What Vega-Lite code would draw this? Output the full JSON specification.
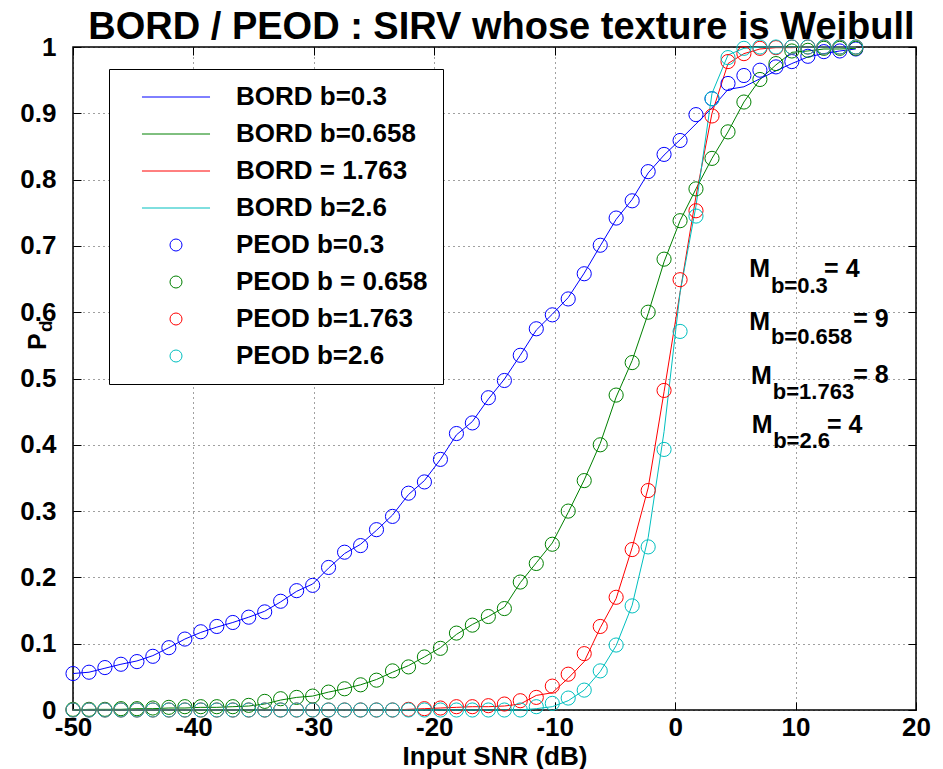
{
  "$schema": "https://vega.github.io/schema/vega-lite/v6.json",
  "width": 843,
  "height": 663,
  "autosize": {"type": "none"},
  "padding": {"left": 73, "top": 47, "right": 27, "bottom": 59},
  "background": "white",
  "title": {
    "text": "BORD / PEOD : SIRV whose texture is Weibull",
    "fontSize": 38,
    "fontWeight": "bold",
    "color": "#000",
    "anchor": "middle",
    "frame": "group",
    "baseline": "alphabetic",
    "offset": 6,
    "dx": 7,
    "dy": 49
  },
  "config": {
    "font": "Liberation Sans",
    "view": {"stroke": "#000", "strokeWidth": 1.5},
    "legend": {
      "orient": "none",
      "legendX": 36,
      "legendY": 22,
      "fillColor": "white",
      "strokeColor": "#000",
      "strokeWidth": 1,
      "padding": 15,
      "labelFontSize": 26,
      "labelFontWeight": "bold",
      "labelColor": "#000",
      "labelLimit": 400,
      "symbolSize": 144,
      "symbolStrokeWidth": 1,
      "symbolOffset": 39,
      "labelOffset": 47,
      "rowPadding": 11,
      "title": null
    }
  },
  "datasets": {
    "pd": [
      {"x": -50.00, "BORD03": 0.055, "PEOD03": 0.055, "BORD0658": 0.000, "PEOD0658": 0.001, "BORD1763": 0, "PEOD1763": 0, "BORD26": 0, "PEOD26": 0},
      {"x": -48.67, "BORD03": 0.057, "PEOD03": 0.057, "BORD0658": 0.001, "PEOD0658": 0.001, "BORD1763": 0, "PEOD1763": 0, "BORD26": 0, "PEOD26": 0},
      {"x": -47.35, "BORD03": 0.063, "PEOD03": 0.064, "BORD0658": 0.001, "PEOD0658": 0.001, "BORD1763": 0, "PEOD1763": 0, "BORD26": 0, "PEOD26": 0},
      {"x": -46.02, "BORD03": 0.069, "PEOD03": 0.069, "BORD0658": 0.001, "PEOD0658": 0.002, "BORD1763": 0, "PEOD1763": 0, "BORD26": 0, "PEOD26": 0},
      {"x": -44.69, "BORD03": 0.074, "PEOD03": 0.073, "BORD0658": 0.002, "PEOD0658": 0.002, "BORD1763": 0, "PEOD1763": 0, "BORD26": 0, "PEOD26": 0},
      {"x": -43.37, "BORD03": 0.082, "PEOD03": 0.081, "BORD0658": 0.002, "PEOD0658": 0.003, "BORD1763": 0, "PEOD1763": 0, "BORD26": 0, "PEOD26": 0},
      {"x": -42.04, "BORD03": 0.094, "PEOD03": 0.094, "BORD0658": 0.003, "PEOD0658": 0.004, "BORD1763": 0, "PEOD1763": 0, "BORD26": 0, "PEOD26": 0},
      {"x": -40.71, "BORD03": 0.107, "PEOD03": 0.107, "BORD0658": 0.003, "PEOD0658": 0.005, "BORD1763": 0, "PEOD1763": 0, "BORD26": 0, "PEOD26": 0},
      {"x": -39.39, "BORD03": 0.117, "PEOD03": 0.118, "BORD0658": 0.004, "PEOD0658": 0.005, "BORD1763": 0, "PEOD1763": 0, "BORD26": 0, "PEOD26": 0},
      {"x": -38.06, "BORD03": 0.125, "PEOD03": 0.126, "BORD0658": 0.004, "PEOD0658": 0.005, "BORD1763": 0, "PEOD1763": 0, "BORD26": 0, "PEOD26": 0},
      {"x": -36.73, "BORD03": 0.132, "PEOD03": 0.132, "BORD0658": 0.005, "PEOD0658": 0.005, "BORD1763": 0, "PEOD1763": 0, "BORD26": 0, "PEOD26": 0},
      {"x": -35.41, "BORD03": 0.140, "PEOD03": 0.140, "BORD0658": 0.006, "PEOD0658": 0.007, "BORD1763": 0, "PEOD1763": 0, "BORD26": 0, "PEOD26": 0},
      {"x": -34.08, "BORD03": 0.149, "PEOD03": 0.148, "BORD0658": 0.009, "PEOD0658": 0.013, "BORD1763": 0, "PEOD1763": 0, "BORD26": 0, "PEOD26": 0},
      {"x": -32.76, "BORD03": 0.163, "PEOD03": 0.164, "BORD0658": 0.015, "PEOD0658": 0.017, "BORD1763": 0, "PEOD1763": 0, "BORD26": 0, "PEOD26": 0},
      {"x": -31.43, "BORD03": 0.179, "PEOD03": 0.180, "BORD0658": 0.019, "PEOD0658": 0.019, "BORD1763": 0, "PEOD1763": 0, "BORD26": 0, "PEOD26": 0},
      {"x": -30.10, "BORD03": 0.190, "PEOD03": 0.188, "BORD0658": 0.021, "PEOD0658": 0.021, "BORD1763": 0, "PEOD1763": 0, "BORD26": 0, "PEOD26": 0},
      {"x": -28.78, "BORD03": 0.214, "PEOD03": 0.215, "BORD0658": 0.027, "PEOD0658": 0.027, "BORD1763": 0, "PEOD1763": 0, "BORD26": 0, "PEOD26": 0},
      {"x": -27.45, "BORD03": 0.236, "PEOD03": 0.238, "BORD0658": 0.032, "PEOD0658": 0.032, "BORD1763": 0, "PEOD1763": 0, "BORD26": 0, "PEOD26": 0},
      {"x": -26.12, "BORD03": 0.250, "PEOD03": 0.248, "BORD0658": 0.038, "PEOD0658": 0.038, "BORD1763": 0, "PEOD1763": 0, "BORD26": 0, "PEOD26": 0},
      {"x": -24.80, "BORD03": 0.271, "PEOD03": 0.272, "BORD0658": 0.046, "PEOD0658": 0.045, "BORD1763": 0, "PEOD1763": 0, "BORD26": 0, "PEOD26": 0},
      {"x": -23.47, "BORD03": 0.294, "PEOD03": 0.292, "BORD0658": 0.057, "PEOD0658": 0.059, "BORD1763": 0, "PEOD1763": 0, "BORD26": 0, "PEOD26": 0},
      {"x": -22.14, "BORD03": 0.325, "PEOD03": 0.327, "BORD0658": 0.067, "PEOD0658": 0.065, "BORD1763": 0.001, "PEOD1763": 0.001, "BORD26": 0, "PEOD26": 0},
      {"x": -20.82, "BORD03": 0.346, "PEOD03": 0.344, "BORD0658": 0.080, "PEOD0658": 0.080, "BORD1763": 0.002, "PEOD1763": 0.002, "BORD26": 0, "PEOD26": 0},
      {"x": -19.49, "BORD03": 0.378, "PEOD03": 0.378, "BORD0658": 0.094, "PEOD0658": 0.093, "BORD1763": 0.003, "PEOD1763": 0.003, "BORD26": 0, "PEOD26": 0},
      {"x": -18.16, "BORD03": 0.415, "PEOD03": 0.417, "BORD0658": 0.114, "PEOD0658": 0.116, "BORD1763": 0.004, "PEOD1763": 0.005, "BORD26": 0, "PEOD26": 0},
      {"x": -16.84, "BORD03": 0.435, "PEOD03": 0.433, "BORD0658": 0.129, "PEOD0658": 0.128, "BORD1763": 0.005, "PEOD1763": 0.005, "BORD26": 0, "PEOD26": 0},
      {"x": -15.51, "BORD03": 0.469, "PEOD03": 0.471, "BORD0658": 0.141, "PEOD0658": 0.141, "BORD1763": 0.005, "PEOD1763": 0.0065, "BORD26": 0, "PEOD26": 0},
      {"x": -14.18, "BORD03": 0.499, "PEOD03": 0.497, "BORD0658": 0.155, "PEOD0658": 0.153, "BORD1763": 0.006, "PEOD1763": 0.009, "BORD26": 0, "PEOD26": 0},
      {"x": -12.86, "BORD03": 0.535, "PEOD03": 0.535, "BORD0658": 0.192, "PEOD0658": 0.193, "BORD1763": 0.009, "PEOD1763": 0.014, "BORD26": 0, "PEOD26": 0},
      {"x": -11.53, "BORD03": 0.573, "PEOD03": 0.575, "BORD0658": 0.222, "PEOD0658": 0.221, "BORD1763": 0.022, "PEOD1763": 0.019, "BORD26": 0.002, "PEOD26": 0.005},
      {"x": -10.20, "BORD03": 0.597, "PEOD03": 0.596, "BORD0658": 0.252, "PEOD0658": 0.250, "BORD1763": 0.026, "PEOD1763": 0.036, "BORD26": 0.005, "PEOD26": 0.010},
      {"x": -8.88, "BORD03": 0.622, "PEOD03": 0.620, "BORD0658": 0.298, "PEOD0658": 0.300, "BORD1763": 0.048, "PEOD1763": 0.054, "BORD26": 0.014, "PEOD26": 0.018},
      {"x": -7.55, "BORD03": 0.659, "PEOD03": 0.658, "BORD0658": 0.347, "PEOD0658": 0.346, "BORD1763": 0.073, "PEOD1763": 0.085, "BORD26": 0.030, "PEOD26": 0.030},
      {"x": -6.22, "BORD03": 0.700, "PEOD03": 0.701, "BORD0658": 0.402, "PEOD0658": 0.400, "BORD1763": 0.124, "PEOD1763": 0.126, "BORD26": 0.058, "PEOD26": 0.059},
      {"x": -4.90, "BORD03": 0.740, "PEOD03": 0.742, "BORD0658": 0.472, "PEOD0658": 0.475, "BORD1763": 0.168, "PEOD1763": 0.170, "BORD26": 0.097, "PEOD26": 0.098},
      {"x": -3.57, "BORD03": 0.770, "PEOD03": 0.768, "BORD0658": 0.527, "PEOD0658": 0.524, "BORD1763": 0.245, "PEOD1763": 0.242, "BORD26": 0.158, "PEOD26": 0.157},
      {"x": -2.24, "BORD03": 0.810, "PEOD03": 0.812, "BORD0658": 0.598, "PEOD0658": 0.600, "BORD1763": 0.335, "PEOD1763": 0.331, "BORD26": 0.260, "PEOD26": 0.246},
      {"x": -0.92, "BORD03": 0.837, "PEOD03": 0.838, "BORD0658": 0.676, "PEOD0658": 0.680, "BORD1763": 0.480, "PEOD1763": 0.482, "BORD26": 0.420, "PEOD26": 0.393},
      {"x": 0.41, "BORD03": 0.860, "PEOD03": 0.859, "BORD0658": 0.738, "PEOD0658": 0.738, "BORD1763": 0.630, "PEOD1763": 0.649, "BORD26": 0.630, "PEOD26": 0.571},
      {"x": 1.73, "BORD03": 0.884, "PEOD03": 0.898, "BORD0658": 0.786, "PEOD0658": 0.786, "BORD1763": 0.775, "PEOD1763": 0.753, "BORD26": 0.760, "PEOD26": 0.745},
      {"x": 3.06, "BORD03": 0.908, "PEOD03": 0.922, "BORD0658": 0.832, "PEOD0658": 0.832, "BORD1763": 0.900, "PEOD1763": 0.896, "BORD26": 0.930, "PEOD26": 0.922},
      {"x": 4.39, "BORD03": 0.936, "PEOD03": 0.945, "BORD0658": 0.872, "PEOD0658": 0.872, "BORD1763": 0.975, "PEOD1763": 0.978, "BORD26": 0.988, "PEOD26": 0.984},
      {"x": 5.71, "BORD03": 0.940, "PEOD03": 0.957, "BORD0658": 0.917, "PEOD0658": 0.917, "BORD1763": 0.990, "PEOD1763": 0.990, "BORD26": 0.998, "PEOD26": 0.998},
      {"x": 7.04, "BORD03": 0.952, "PEOD03": 0.965, "BORD0658": 0.951, "PEOD0658": 0.951, "BORD1763": 0.997, "PEOD1763": 0.998, "BORD26": 1.0, "PEOD26": 1.0},
      {"x": 8.37, "BORD03": 0.964, "PEOD03": 0.970, "BORD0658": 0.973, "PEOD0658": 0.975, "BORD1763": 0.999, "PEOD1763": 0.999, "BORD26": 1.0, "PEOD26": 1.0},
      {"x": 9.69, "BORD03": 0.975, "PEOD03": 0.978, "BORD0658": 0.992, "PEOD0658": 0.994, "BORD1763": 0.999, "PEOD1763": 1.0, "BORD26": 1.0, "PEOD26": 1.0},
      {"x": 11.02, "BORD03": 0.985, "PEOD03": 0.986, "BORD0658": 0.994, "PEOD0658": 0.995, "BORD1763": 1.0, "PEOD1763": 1.0, "BORD26": 1.0, "PEOD26": 1.0},
      {"x": 12.35, "BORD03": 0.990, "PEOD03": 0.993, "BORD0658": 0.997, "PEOD0658": 0.998, "BORD1763": 1.0, "PEOD1763": 1.0, "BORD26": 1.0, "PEOD26": 1.0},
      {"x": 13.67, "BORD03": 0.994, "PEOD03": 0.994, "BORD0658": 0.997, "PEOD0658": 0.998, "BORD1763": 1.0, "PEOD1763": 1.0, "BORD26": 1.0, "PEOD26": 1.0},
      {"x": 15.00, "BORD03": 0.997, "PEOD03": 0.997, "BORD0658": 0.998, "PEOD0658": 0.998, "BORD1763": 1.0, "PEOD1763": 1.0, "BORD26": 1.0, "PEOD26": 1.0}
    ],
    "notesBig": [
      {"t": "M", "x": 6.15, "y": 0.6535},
      {"t": "= 4", "x": 12.37, "y": 0.6535},
      {"t": "M", "x": 6.15, "y": 0.5732},
      {"t": "= 9", "x": 14.78, "y": 0.577},
      {"t": "M", "x": 6.29, "y": 0.491},
      {"t": "= 8", "x": 14.78, "y": 0.4928},
      {"t": "M", "x": 6.37, "y": 0.4173},
      {"t": "= 4", "x": 12.6, "y": 0.4173}
    ],
    "notesSmall": [
      {"t": "b=0.3", "x": 7.95, "y": 0.6285},
      {"t": "b=0.658", "x": 7.95, "y": 0.552},
      {"t": "b=1.763", "x": 8.11, "y": 0.4686},
      {"t": "b=2.6", "x": 8.14, "y": 0.3947}
    ],
    "yTitleMain": [{"t": "P", "x": -52.24, "y": 0.5430}],
    "yTitleSub": [{"t": "d", "x": -51.74, "y": 0.5700}]
  },
  "layer": [
    {
      "layer": [
        {
          "data": {"name": "pd"},
          "transform": [{"fold": ["BORD03", "BORD0658", "BORD1763", "BORD26"], "as": ["series", "pd"]}],
          "mark": {"type": "line", "strokeWidth": 1},
          "encoding": {
            "x": {
              "field": "x", "type": "quantitative",
              "scale": {"domain": [-50, 20], "nice": false, "zero": false},
              "axis": {
                "orient": "bottom",
                "title": "Input SNR (dB)",
                "values": [-50, -40, -30, -20, -10, 0, 10, 20],
                "labelExpr": "'' + datum.value",
                "grid": true, "gridDash": [1, 4], "gridColor": "#000", "gridOpacity": 0.75, "gridWidth": 1,
                "domain": false,
                "tickSize": -8, "tickColor": "#000", "tickWidth": 1,
                "labelFontSize": 26, "labelFontWeight": "bold", "labelColor": "#000",
                "labelPadding": 12, "labelFlush": false, "labelOverlap": false, "labelBound": false,
                "titleFontSize": 26, "titleFontWeight": "bold", "titleColor": "#000", "titlePadding": 3
              }
            },
            "y": {
              "field": "pd", "type": "quantitative",
              "scale": {"domain": [0, 1], "nice": false, "zero": false},
              "axis": {
                "orient": "left",
                "title": null,
                "values": [0, 0.1, 0.2, 0.3, 0.4, 0.5, 0.6, 0.7, 0.8, 0.9, 1],
                "labelExpr": "'' + datum.value",
                "grid": true, "gridDash": [1, 4], "gridColor": "#000", "gridOpacity": 0.75, "gridWidth": 1,
                "domain": false,
                "tickSize": -8, "tickColor": "#000", "tickWidth": 1,
                "labelFontSize": 26, "labelFontWeight": "bold", "labelColor": "#000",
                "labelPadding": 25, "labelFlush": false, "labelOverlap": false, "labelBound": false
              }
            },
            "color": {
              "field": "series", "type": "nominal",
              "scale": {
                "domain": ["BORD03", "BORD0658", "BORD1763", "BORD26", "PEOD03", "PEOD0658", "PEOD1763", "PEOD26"],
                "range": ["#0000ff", "#008000", "#ff0000", "#00bfbf", "#0000ff", "#008000", "#ff0000", "#00bfbf"]
              },
              "legend": {
                "labelExpr": "['BORD b=0.3','BORD b=0.658','BORD = 1.763','BORD b=2.6','PEOD b=0.3','PEOD b = 0.658','PEOD b=1.763','PEOD b=2.6'][indexof(['BORD03','BORD0658','BORD1763','BORD26','PEOD03','PEOD0658','PEOD1763','PEOD26'], datum.value)]"
              }
            }
          }
        },
        {
          "data": {"name": "pd"},
          "transform": [{"fold": ["PEOD03", "PEOD0658", "PEOD1763", "PEOD26"], "as": ["series", "pd"]}],
          "mark": {"type": "point", "filled": false, "size": 200, "strokeWidth": 1, "opacity": 1},
          "encoding": {
            "x": {"field": "x", "type": "quantitative", "scale": {"domain": [-50, 20], "nice": false, "zero": false}},
            "y": {"field": "pd", "type": "quantitative", "scale": {"domain": [0, 1], "nice": false, "zero": false}},
            "color": {
              "field": "series", "type": "nominal",
              "scale": {
                "domain": ["BORD03", "BORD0658", "BORD1763", "BORD26", "PEOD03", "PEOD0658", "PEOD1763", "PEOD26"],
                "range": ["#0000ff", "#008000", "#ff0000", "#00bfbf", "#0000ff", "#008000", "#ff0000", "#00bfbf"]
              },
              "legend": {
                "labelExpr": "['BORD b=0.3','BORD b=0.658','BORD = 1.763','BORD b=2.6','PEOD b=0.3','PEOD b = 0.658','PEOD b=1.763','PEOD b=2.6'][indexof(['BORD03','BORD0658','BORD1763','BORD26','PEOD03','PEOD0658','PEOD1763','PEOD26'], datum.value)]"
              }
            },
            "shape": {
              "field": "series", "type": "nominal",
              "scale": {
                "domain": ["BORD03", "BORD0658", "BORD1763", "BORD26", "PEOD03", "PEOD0658", "PEOD1763", "PEOD26"],
                "range": ["M-5.67,0L5.67,0", "M-5.67,0L5.67,0", "M-5.67,0L5.67,0", "M-5.67,0L5.67,0", "circle", "circle", "circle", "circle"]
              },
              "legend": {
                "labelExpr": "['BORD b=0.3','BORD b=0.658','BORD = 1.763','BORD b=2.6','PEOD b=0.3','PEOD b = 0.658','PEOD b=1.763','PEOD b=2.6'][indexof(['BORD03','BORD0658','BORD1763','BORD26','PEOD03','PEOD0658','PEOD1763','PEOD26'], datum.value)]"
              }
            }
          }
        },
        {
          "data": {"name": "notesBig"},
          "mark": {"type": "text", "align": "left", "baseline": "alphabetic", "fontSize": 25, "fontWeight": "bold", "color": "#000"},
          "encoding": {
            "x": {"field": "x", "type": "quantitative", "scale": {"domain": [-50, 20], "nice": false, "zero": false}},
            "y": {"field": "y", "type": "quantitative", "scale": {"domain": [0, 1], "nice": false, "zero": false}},
            "text": {"field": "t"}
          }
        },
        {
          "data": {"name": "yTitleMain"},
          "mark": {"type": "text", "align": "left", "baseline": "alphabetic", "angle": 270, "fontSize": 25, "fontWeight": "bold", "color": "#000"},
          "encoding": {
            "x": {"field": "x", "type": "quantitative", "scale": {"domain": [-50, 20], "nice": false, "zero": false}},
            "y": {"field": "y", "type": "quantitative", "scale": {"domain": [0, 1], "nice": false, "zero": false}},
            "text": {"field": "t"}
          }
        },
        {
          "data": {"name": "yTitleSub"},
          "mark": {"type": "text", "align": "left", "baseline": "alphabetic", "angle": 270, "fontSize": 19, "fontWeight": "bold", "color": "#000"},
          "encoding": {
            "x": {"field": "x", "type": "quantitative", "scale": {"domain": [-50, 20], "nice": false, "zero": false}},
            "y": {"field": "y", "type": "quantitative", "scale": {"domain": [0, 1], "nice": false, "zero": false}},
            "text": {"field": "t"}
          }
        }
      ]
    },
    {
      "data": {"name": "notesSmall"},
      "mark": {"type": "text", "align": "left", "baseline": "alphabetic", "fontSize": 22, "fontWeight": "bold", "color": "#000"},
      "encoding": {
        "x": {
          "field": "x", "type": "quantitative",
          "scale": {"domain": [-50, 20], "nice": false, "zero": false},
          "axis": {"orient": "top", "title": null, "labels": false, "grid": false, "domain": false,
                   "values": [-50, -40, -30, -20, -10, 0, 10, 20], "tickSize": -8, "tickColor": "#000", "tickWidth": 1}
        },
        "y": {
          "field": "y", "type": "quantitative",
          "scale": {"domain": [0, 1], "nice": false, "zero": false},
          "axis": {"orient": "right", "title": null, "labels": false, "grid": false, "domain": false,
                   "values": [0, 0.1, 0.2, 0.3, 0.4, 0.5, 0.6, 0.7, 0.8, 0.9, 1], "tickSize": -8, "tickColor": "#000", "tickWidth": 1}
        },
        "text": {"field": "t"}
      }
    }
  ],
  "resolve": {"axis": {"x": "independent", "y": "independent"}}
}
